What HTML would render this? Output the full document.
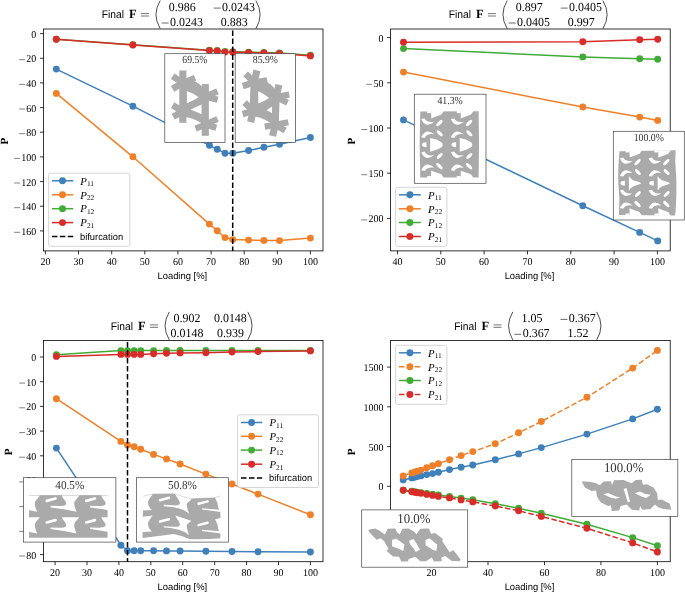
<!DOCTYPE html>
<html><head><meta charset="utf-8"><title>Figure</title>
<style>html,body{margin:0;padding:0;background:#fff;}svg{display:block;will-change:transform;}text{text-rendering:geometricPrecision;}</style>
</head><body>
<svg width="685" height="593" viewBox="0 0 685 593">
<rect x="0" y="0" width="685" height="593" fill="#fff"/>
<polyline points="56.3,69.1 132.9,106.2 209.4,145.3 217.2,149.3 225.0,153.2 232.8,153.2 248.6,150.5 263.9,147.3 279.5,144.3 310.4,137.5" fill="none" stroke="#3f80bb" stroke-width="1.5" stroke-linejoin="round"/>
<circle cx="56.3" cy="69.1" r="3.45" fill="#3f80bb"/>
<circle cx="132.9" cy="106.2" r="3.45" fill="#3f80bb"/>
<circle cx="209.4" cy="145.3" r="3.45" fill="#3f80bb"/>
<circle cx="217.2" cy="149.3" r="3.45" fill="#3f80bb"/>
<circle cx="225.0" cy="153.2" r="3.45" fill="#3f80bb"/>
<circle cx="232.8" cy="153.2" r="3.45" fill="#3f80bb"/>
<circle cx="248.6" cy="150.5" r="3.45" fill="#3f80bb"/>
<circle cx="263.9" cy="147.3" r="3.45" fill="#3f80bb"/>
<circle cx="279.5" cy="144.3" r="3.45" fill="#3f80bb"/>
<circle cx="310.4" cy="137.5" r="3.45" fill="#3f80bb"/>
<polyline points="56.3,93.4 132.9,156.8 209.4,224.1 217.2,230.8 225.0,237.6 232.8,239.6 248.6,240.1 263.9,240.4 279.5,240.6 310.4,238.1" fill="none" stroke="#f08028" stroke-width="1.5" stroke-linejoin="round"/>
<circle cx="56.3" cy="93.4" r="3.45" fill="#f08028"/>
<circle cx="132.9" cy="156.8" r="3.45" fill="#f08028"/>
<circle cx="209.4" cy="224.1" r="3.45" fill="#f08028"/>
<circle cx="217.2" cy="230.8" r="3.45" fill="#f08028"/>
<circle cx="225.0" cy="237.6" r="3.45" fill="#f08028"/>
<circle cx="232.8" cy="239.6" r="3.45" fill="#f08028"/>
<circle cx="248.6" cy="240.1" r="3.45" fill="#f08028"/>
<circle cx="263.9" cy="240.4" r="3.45" fill="#f08028"/>
<circle cx="279.5" cy="240.6" r="3.45" fill="#f08028"/>
<circle cx="310.4" cy="238.1" r="3.45" fill="#f08028"/>
<polyline points="56.3,39.2 132.9,44.7 209.4,50.2 217.2,50.5 225.0,51.5 232.8,51.8 248.6,52.1 263.9,52.5 279.5,53.0 310.4,55.3" fill="none" stroke="#40ab35" stroke-width="1.5" stroke-linejoin="round"/>
<circle cx="56.3" cy="39.2" r="3.45" fill="#40ab35"/>
<circle cx="132.9" cy="44.7" r="3.45" fill="#40ab35"/>
<circle cx="209.4" cy="50.2" r="3.45" fill="#40ab35"/>
<circle cx="217.2" cy="50.5" r="3.45" fill="#40ab35"/>
<circle cx="225.0" cy="51.5" r="3.45" fill="#40ab35"/>
<circle cx="232.8" cy="51.8" r="3.45" fill="#40ab35"/>
<circle cx="248.6" cy="52.1" r="3.45" fill="#40ab35"/>
<circle cx="263.9" cy="52.5" r="3.45" fill="#40ab35"/>
<circle cx="279.5" cy="53.0" r="3.45" fill="#40ab35"/>
<circle cx="310.4" cy="55.3" r="3.45" fill="#40ab35"/>
<polyline points="56.3,39.2 132.9,45.0 209.4,50.6 217.2,50.9 225.0,52.1 232.8,52.3 248.6,52.6 263.9,53.0 279.5,53.5 310.4,55.9" fill="none" stroke="#d92c29" stroke-width="1.5" stroke-linejoin="round"/>
<circle cx="56.3" cy="39.2" r="3.45" fill="#d92c29"/>
<circle cx="132.9" cy="45.0" r="3.45" fill="#d92c29"/>
<circle cx="209.4" cy="50.6" r="3.45" fill="#d92c29"/>
<circle cx="217.2" cy="50.9" r="3.45" fill="#d92c29"/>
<circle cx="225.0" cy="52.1" r="3.45" fill="#d92c29"/>
<circle cx="232.8" cy="52.3" r="3.45" fill="#d92c29"/>
<circle cx="248.6" cy="52.6" r="3.45" fill="#d92c29"/>
<circle cx="263.9" cy="53.0" r="3.45" fill="#d92c29"/>
<circle cx="279.5" cy="53.5" r="3.45" fill="#d92c29"/>
<circle cx="310.4" cy="55.9" r="3.45" fill="#d92c29"/>
<line x1="232.7" y1="29.0" x2="232.7" y2="250.9" stroke="#000" stroke-width="1.5" stroke-dasharray="5.5 2.5" stroke-dashoffset="6.4"/>
<rect x="43.5" y="29.0" width="279.5" height="221.9" fill="none" stroke="#000" stroke-width="0.8"/>
<line x1="40.0" y1="33.6" x2="43.5" y2="33.6" stroke="#000" stroke-width="0.8"/>
<text x="36.3" y="37.5" font-family='"Liberation Serif", serif' font-size="10.40" text-anchor="end" fill="#000" textLength="5.0" lengthAdjust="spacingAndGlyphs">0</text>
<line x1="40.0" y1="58.3" x2="43.5" y2="58.3" stroke="#000" stroke-width="0.8"/>
<text x="36.3" y="62.2" font-family='"Liberation Serif", serif' font-size="10.40" text-anchor="end" fill="#000" textLength="10.0" lengthAdjust="spacingAndGlyphs">20</text>
<line x1="19.2" y1="59.7" x2="25.1" y2="59.7" stroke="#000" stroke-width="0.50"/>
<line x1="40.0" y1="82.9" x2="43.5" y2="82.9" stroke="#000" stroke-width="0.8"/>
<text x="36.3" y="86.8" font-family='"Liberation Serif", serif' font-size="10.40" text-anchor="end" fill="#000" textLength="10.0" lengthAdjust="spacingAndGlyphs">40</text>
<line x1="19.2" y1="84.4" x2="25.1" y2="84.4" stroke="#000" stroke-width="0.50"/>
<line x1="40.0" y1="107.6" x2="43.5" y2="107.6" stroke="#000" stroke-width="0.8"/>
<text x="36.3" y="111.5" font-family='"Liberation Serif", serif' font-size="10.40" text-anchor="end" fill="#000" textLength="10.0" lengthAdjust="spacingAndGlyphs">60</text>
<line x1="19.2" y1="109.0" x2="25.1" y2="109.0" stroke="#000" stroke-width="0.50"/>
<line x1="40.0" y1="132.2" x2="43.5" y2="132.2" stroke="#000" stroke-width="0.8"/>
<text x="36.3" y="136.1" font-family='"Liberation Serif", serif' font-size="10.40" text-anchor="end" fill="#000" textLength="10.0" lengthAdjust="spacingAndGlyphs">80</text>
<line x1="19.2" y1="133.7" x2="25.1" y2="133.7" stroke="#000" stroke-width="0.50"/>
<line x1="40.0" y1="156.9" x2="43.5" y2="156.9" stroke="#000" stroke-width="0.8"/>
<text x="36.3" y="160.8" font-family='"Liberation Serif", serif' font-size="10.40" text-anchor="end" fill="#000" textLength="15.0" lengthAdjust="spacingAndGlyphs">100</text>
<line x1="14.2" y1="158.4" x2="20.1" y2="158.4" stroke="#000" stroke-width="0.50"/>
<line x1="40.0" y1="181.6" x2="43.5" y2="181.6" stroke="#000" stroke-width="0.8"/>
<text x="36.3" y="185.5" font-family='"Liberation Serif", serif' font-size="10.40" text-anchor="end" fill="#000" textLength="15.0" lengthAdjust="spacingAndGlyphs">120</text>
<line x1="14.2" y1="183.0" x2="20.1" y2="183.0" stroke="#000" stroke-width="0.50"/>
<line x1="40.0" y1="206.2" x2="43.5" y2="206.2" stroke="#000" stroke-width="0.8"/>
<text x="36.3" y="210.1" font-family='"Liberation Serif", serif' font-size="10.40" text-anchor="end" fill="#000" textLength="15.0" lengthAdjust="spacingAndGlyphs">140</text>
<line x1="14.2" y1="207.7" x2="20.1" y2="207.7" stroke="#000" stroke-width="0.50"/>
<line x1="40.0" y1="230.9" x2="43.5" y2="230.9" stroke="#000" stroke-width="0.8"/>
<text x="36.3" y="234.8" font-family='"Liberation Serif", serif' font-size="10.40" text-anchor="end" fill="#000" textLength="15.0" lengthAdjust="spacingAndGlyphs">160</text>
<line x1="14.2" y1="232.3" x2="20.1" y2="232.3" stroke="#000" stroke-width="0.50"/>
<line x1="45.4" y1="250.9" x2="45.4" y2="254.4" stroke="#000" stroke-width="0.8"/>
<text x="50.4" y="265.0" font-family='"Liberation Serif", serif' font-size="10.40" text-anchor="end" fill="#000" textLength="10.0" lengthAdjust="spacingAndGlyphs">20</text>
<line x1="78.5" y1="250.9" x2="78.5" y2="254.4" stroke="#000" stroke-width="0.8"/>
<text x="83.5" y="265.0" font-family='"Liberation Serif", serif' font-size="10.40" text-anchor="end" fill="#000" textLength="10.0" lengthAdjust="spacingAndGlyphs">30</text>
<line x1="111.7" y1="250.9" x2="111.7" y2="254.4" stroke="#000" stroke-width="0.8"/>
<text x="116.7" y="265.0" font-family='"Liberation Serif", serif' font-size="10.40" text-anchor="end" fill="#000" textLength="10.0" lengthAdjust="spacingAndGlyphs">40</text>
<line x1="144.8" y1="250.9" x2="144.8" y2="254.4" stroke="#000" stroke-width="0.8"/>
<text x="149.8" y="265.0" font-family='"Liberation Serif", serif' font-size="10.40" text-anchor="end" fill="#000" textLength="10.0" lengthAdjust="spacingAndGlyphs">50</text>
<line x1="177.9" y1="250.9" x2="177.9" y2="254.4" stroke="#000" stroke-width="0.8"/>
<text x="182.9" y="265.0" font-family='"Liberation Serif", serif' font-size="10.40" text-anchor="end" fill="#000" textLength="10.0" lengthAdjust="spacingAndGlyphs">60</text>
<line x1="211.1" y1="250.9" x2="211.1" y2="254.4" stroke="#000" stroke-width="0.8"/>
<text x="216.1" y="265.0" font-family='"Liberation Serif", serif' font-size="10.40" text-anchor="end" fill="#000" textLength="10.0" lengthAdjust="spacingAndGlyphs">70</text>
<line x1="244.2" y1="250.9" x2="244.2" y2="254.4" stroke="#000" stroke-width="0.8"/>
<text x="249.2" y="265.0" font-family='"Liberation Serif", serif' font-size="10.40" text-anchor="end" fill="#000" textLength="10.0" lengthAdjust="spacingAndGlyphs">80</text>
<line x1="277.3" y1="250.9" x2="277.3" y2="254.4" stroke="#000" stroke-width="0.8"/>
<text x="282.3" y="265.0" font-family='"Liberation Serif", serif' font-size="10.40" text-anchor="end" fill="#000" textLength="10.0" lengthAdjust="spacingAndGlyphs">90</text>
<line x1="310.4" y1="250.9" x2="310.4" y2="254.4" stroke="#000" stroke-width="0.8"/>
<text x="317.9" y="265.0" font-family='"Liberation Serif", serif' font-size="10.40" text-anchor="end" fill="#000" textLength="15.0" lengthAdjust="spacingAndGlyphs">100</text>
<text x="182.3" y="279.0" font-family='"Liberation Sans", sans-serif' font-size="9.6" text-anchor="middle" textLength="49.7" lengthAdjust="spacingAndGlyphs">Loading [%]</text>
<text transform="translate(8.0,141.2) rotate(-90)" font-family='"Liberation Serif", serif' font-weight="bold" font-size="11" text-anchor="middle">P</text>
<rect x="48.6" y="173.3" width="81.2" height="73.0" rx="2" ry="2" fill="#fff" fill-opacity="0.8" stroke="#ccc" stroke-width="0.8"/>
<line x1="51.9" y1="180.8" x2="73.2" y2="180.8" stroke="#3f80bb" stroke-width="1.5"/>
<circle cx="62.5" cy="180.8" r="3.45" fill="#3f80bb"/>
<text x="80.3" y="184.5" font-family='"Liberation Serif", serif' font-style="italic" font-size="10.8">P</text>
<text x="86.9" y="186.1" font-family='"Liberation Serif", serif' font-size="7.4">11</text>
<line x1="51.9" y1="194.8" x2="73.2" y2="194.8" stroke="#f08028" stroke-width="1.5"/>
<circle cx="62.5" cy="194.8" r="3.45" fill="#f08028"/>
<text x="80.3" y="198.5" font-family='"Liberation Serif", serif' font-style="italic" font-size="10.8">P</text>
<text x="86.9" y="200.1" font-family='"Liberation Serif", serif' font-size="7.4">22</text>
<line x1="51.9" y1="208.7" x2="73.2" y2="208.7" stroke="#40ab35" stroke-width="1.5"/>
<circle cx="62.5" cy="208.7" r="3.45" fill="#40ab35"/>
<text x="80.3" y="212.4" font-family='"Liberation Serif", serif' font-style="italic" font-size="10.8">P</text>
<text x="86.9" y="214.0" font-family='"Liberation Serif", serif' font-size="7.4">12</text>
<line x1="51.9" y1="222.6" x2="73.2" y2="222.6" stroke="#d92c29" stroke-width="1.5"/>
<circle cx="62.5" cy="222.6" r="3.45" fill="#d92c29"/>
<text x="80.3" y="226.3" font-family='"Liberation Serif", serif' font-style="italic" font-size="10.8">P</text>
<text x="86.9" y="227.9" font-family='"Liberation Serif", serif' font-size="7.4">21</text>
<line x1="51.9" y1="236.5" x2="73.2" y2="236.5" stroke="#000" stroke-width="1.5" stroke-dasharray="5.55 2.4"/>
<text x="80.0" y="239.7" font-family='"Liberation Sans", sans-serif' font-size="9.6" textLength="43.1" lengthAdjust="spacingAndGlyphs">bifurcation</text>
<rect x="164.8" y="53.7" width="60.2" height="88.7" fill="#fff" stroke="#444" stroke-width="0.7"/>
<text x="194.9" y="63.4" font-family='"Liberation Serif", serif' font-size="10.8" text-anchor="middle" fill="#333" textLength="25.2" lengthAdjust="spacingAndGlyphs">69.5%</text>
<g transform="translate(163,52) scale(0.15497)" stroke="#aaaaaa" fill="#aaaaaa" stroke-linecap="butt" stroke-linejoin="round">
<path d="M128,170 Q228,176 282,262 L282,482 Q215,428 128,416Z" stroke="none"/>
<path d="M154,252 Q200,268 230,292 Q200,312 154,331Z" fill="#fff" stroke="none"/>
<path d="M250,338 Q215,352 178,372 Q215,384 250,402Z" fill="#fff" stroke="none"/>
<line x1="128" y1="198" x2="128" y2="383" stroke-width="46"/>
<line x1="273" y1="288" x2="273" y2="468" stroke-width="46"/>
<line x1="128" y1="198" x2="62.0" y2="157.0" stroke-width="42"/>
<line x1="128" y1="198" x2="62.0" y2="238.0" stroke-width="42"/>
<line x1="128" y1="198" x2="207.0" y2="167.0" stroke-width="40"/>
<line x1="128" y1="198" x2="128.0" y2="119.0" stroke-width="46"/>
<circle cx="128" cy="198" r="22" stroke="none"/>
<line x1="128" y1="383" x2="62.0" y2="343.0" stroke-width="42"/>
<line x1="128" y1="383" x2="66.0" y2="418.0" stroke-width="42"/>
<line x1="128" y1="383" x2="128.0" y2="457.0" stroke-width="46"/>
<circle cx="128" cy="383" r="22" stroke="none"/>
<line x1="273" y1="288" x2="352.0" y2="254.0" stroke-width="40"/>
<line x1="273" y1="288" x2="353.0" y2="308.0" stroke-width="40"/>
<line x1="273" y1="288" x2="273.0" y2="207.0" stroke-width="46"/>
<circle cx="273" cy="288" r="22" stroke="none"/>
<line x1="273" y1="468" x2="352.0" y2="432.0" stroke-width="40"/>
<line x1="273" y1="468" x2="344.0" y2="489.0" stroke-width="40"/>
<line x1="273" y1="468" x2="210.0" y2="494.0" stroke-width="40"/>
<line x1="273" y1="468" x2="273.0" y2="541.0" stroke-width="46"/>
<circle cx="273" cy="468" r="22" stroke="none"/>
</g>
<rect x="235.2" y="53.7" width="60.3" height="88.7" fill="#fff" stroke="#444" stroke-width="0.7"/>
<text x="265.4" y="63.4" font-family='"Liberation Serif", serif' font-size="10.8" text-anchor="middle" fill="#333" textLength="25.2" lengthAdjust="spacingAndGlyphs">85.9%</text>
<g transform="translate(233.6,52) scale(0.15497) rotate(2 200 330)" stroke="#aaaaaa" fill="#aaaaaa" stroke-linecap="butt" stroke-linejoin="round">
<path d="M128,170 Q228,176 282,262 L282,482 Q215,428 128,416Z" stroke="none"/>
<path d="M156,254 Q200,270 228,296 Q198,318 160,334Z" fill="#fff" stroke="none"/>
<path d="M250,350 Q232,362 214,376 Q234,382 250,394Z" fill="#fff" stroke="none"/>
<line x1="128" y1="198" x2="128" y2="383" stroke-width="46"/>
<line x1="273" y1="288" x2="273" y2="468" stroke-width="46"/>
<line x1="128" y1="198" x2="71.0" y2="145.2" stroke-width="42"/>
<line x1="128" y1="198" x2="55.6" y2="224.7" stroke-width="42"/>
<line x1="128" y1="198" x2="211.5" y2="182.6" stroke-width="40"/>
<line x1="128" y1="198" x2="143.1" y2="120.5" stroke-width="46"/>
<circle cx="128" cy="198" r="22" stroke="none"/>
<line x1="128" y1="383" x2="70.8" y2="331.1" stroke-width="42"/>
<line x1="128" y1="383" x2="60.5" y2="405.5" stroke-width="42"/>
<line x1="128" y1="383" x2="113.9" y2="455.6" stroke-width="46"/>
<circle cx="128" cy="383" r="22" stroke="none"/>
<line x1="273" y1="288" x2="357.0" y2="269.7" stroke-width="40"/>
<line x1="273" y1="288" x2="347.7" y2="322.9" stroke-width="40"/>
<line x1="273" y1="288" x2="288.5" y2="208.5" stroke-width="46"/>
<circle cx="273" cy="288" r="22" stroke="none"/>
<line x1="273" y1="468" x2="357.4" y2="447.7" stroke-width="40"/>
<line x1="273" y1="468" x2="338.7" y2="502.2" stroke-width="40"/>
<line x1="273" y1="468" x2="206.2" y2="481.5" stroke-width="40"/>
<line x1="273" y1="468" x2="259.1" y2="539.7" stroke-width="46"/>
<circle cx="273" cy="468" r="22" stroke="none"/>
</g>
<text x="101.7" y="18.2" font-family='"Liberation Sans", sans-serif' font-size="11" textLength="22.3" lengthAdjust="spacingAndGlyphs">Final</text>
<text x="129.0" y="18.2" font-family='"Liberation Serif", serif' font-weight="bold" font-size="12.5">F</text>
<line x1="140.9" y1="13.6" x2="148.9" y2="13.6" stroke="#000" stroke-width="0.55"/>
<line x1="140.9" y1="16.0" x2="148.9" y2="16.0" stroke="#000" stroke-width="0.55"/>
<text x="195.7" y="11.0" font-family='"Liberation Serif", serif' font-size="12.27" text-anchor="end" fill="#000" textLength="26.9" lengthAdjust="spacingAndGlyphs">0.986</text>
<text x="254.9" y="11.0" font-family='"Liberation Serif", serif' font-size="12.27" text-anchor="end" fill="#000" textLength="32.8" lengthAdjust="spacingAndGlyphs">0.0243</text>
<line x1="213.8" y1="8.1" x2="220.7" y2="8.1" stroke="#000" stroke-width="0.59"/>
<text x="202.9" y="25.9" font-family='"Liberation Serif", serif' font-size="12.27" text-anchor="end" fill="#000" textLength="32.8" lengthAdjust="spacingAndGlyphs">0.0243</text>
<line x1="161.7" y1="23.0" x2="168.7" y2="23.0" stroke="#000" stroke-width="0.59"/>
<text x="247.7" y="25.9" font-family='"Liberation Serif", serif' font-size="12.27" text-anchor="end" fill="#000" textLength="26.9" lengthAdjust="spacingAndGlyphs">0.883</text>
<path d="M160.2,0.6 Q151.7,14.6 160.2,28.6" fill="none" stroke="#000" stroke-width="0.7"/>
<path d="M255.9,0.6 Q264.4,14.6 255.9,28.6" fill="none" stroke="#000" stroke-width="0.7"/>
<polyline points="403.5,119.9 582.8,205.7 639.7,232.4 657.7,240.9" fill="none" stroke="#3f80bb" stroke-width="1.5" stroke-linejoin="round"/>
<circle cx="403.5" cy="119.9" r="3.45" fill="#3f80bb"/>
<circle cx="582.8" cy="205.7" r="3.45" fill="#3f80bb"/>
<circle cx="639.7" cy="232.4" r="3.45" fill="#3f80bb"/>
<circle cx="657.7" cy="240.9" r="3.45" fill="#3f80bb"/>
<polyline points="403.5,72.1 582.8,107.0 639.7,117.1 657.7,120.4" fill="none" stroke="#f08028" stroke-width="1.5" stroke-linejoin="round"/>
<circle cx="403.5" cy="72.1" r="3.45" fill="#f08028"/>
<circle cx="582.8" cy="107.0" r="3.45" fill="#f08028"/>
<circle cx="639.7" cy="117.1" r="3.45" fill="#f08028"/>
<circle cx="657.7" cy="120.4" r="3.45" fill="#f08028"/>
<polyline points="403.5,48.6 582.8,56.9 639.7,58.7 657.7,59.2" fill="none" stroke="#40ab35" stroke-width="1.5" stroke-linejoin="round"/>
<circle cx="403.5" cy="48.6" r="3.45" fill="#40ab35"/>
<circle cx="582.8" cy="56.9" r="3.45" fill="#40ab35"/>
<circle cx="639.7" cy="58.7" r="3.45" fill="#40ab35"/>
<circle cx="657.7" cy="59.2" r="3.45" fill="#40ab35"/>
<polyline points="403.5,42.2 582.8,41.7 639.7,39.7 657.7,39.2" fill="none" stroke="#d92c29" stroke-width="1.5" stroke-linejoin="round"/>
<circle cx="403.5" cy="42.2" r="3.45" fill="#d92c29"/>
<circle cx="582.8" cy="41.7" r="3.45" fill="#d92c29"/>
<circle cx="639.7" cy="39.7" r="3.45" fill="#d92c29"/>
<circle cx="657.7" cy="39.2" r="3.45" fill="#d92c29"/>
<rect x="390.6" y="29.0" width="279.6" height="221.9" fill="none" stroke="#000" stroke-width="0.8"/>
<line x1="387.1" y1="37.6" x2="390.6" y2="37.6" stroke="#000" stroke-width="0.8"/>
<text x="383.4" y="41.5" font-family='"Liberation Serif", serif' font-size="10.40" text-anchor="end" fill="#000" textLength="5.0" lengthAdjust="spacingAndGlyphs">0</text>
<line x1="387.1" y1="82.8" x2="390.6" y2="82.8" stroke="#000" stroke-width="0.8"/>
<text x="383.4" y="86.7" font-family='"Liberation Serif", serif' font-size="10.40" text-anchor="end" fill="#000" textLength="10.0" lengthAdjust="spacingAndGlyphs">50</text>
<line x1="366.3" y1="84.3" x2="372.2" y2="84.3" stroke="#000" stroke-width="0.50"/>
<line x1="387.1" y1="128.0" x2="390.6" y2="128.0" stroke="#000" stroke-width="0.8"/>
<text x="383.4" y="131.9" font-family='"Liberation Serif", serif' font-size="10.40" text-anchor="end" fill="#000" textLength="15.0" lengthAdjust="spacingAndGlyphs">100</text>
<line x1="361.3" y1="129.5" x2="367.2" y2="129.5" stroke="#000" stroke-width="0.50"/>
<line x1="387.1" y1="173.2" x2="390.6" y2="173.2" stroke="#000" stroke-width="0.8"/>
<text x="383.4" y="177.1" font-family='"Liberation Serif", serif' font-size="10.40" text-anchor="end" fill="#000" textLength="15.0" lengthAdjust="spacingAndGlyphs">150</text>
<line x1="361.3" y1="174.7" x2="367.2" y2="174.7" stroke="#000" stroke-width="0.50"/>
<line x1="387.1" y1="218.4" x2="390.6" y2="218.4" stroke="#000" stroke-width="0.8"/>
<text x="383.4" y="222.3" font-family='"Liberation Serif", serif' font-size="10.40" text-anchor="end" fill="#000" textLength="15.0" lengthAdjust="spacingAndGlyphs">200</text>
<line x1="361.3" y1="219.9" x2="367.2" y2="219.9" stroke="#000" stroke-width="0.50"/>
<line x1="397.5" y1="250.9" x2="397.5" y2="254.4" stroke="#000" stroke-width="0.8"/>
<text x="402.5" y="265.0" font-family='"Liberation Serif", serif' font-size="10.40" text-anchor="end" fill="#000" textLength="10.0" lengthAdjust="spacingAndGlyphs">40</text>
<line x1="440.8" y1="250.9" x2="440.8" y2="254.4" stroke="#000" stroke-width="0.8"/>
<text x="445.8" y="265.0" font-family='"Liberation Serif", serif' font-size="10.40" text-anchor="end" fill="#000" textLength="10.0" lengthAdjust="spacingAndGlyphs">50</text>
<line x1="484.1" y1="250.9" x2="484.1" y2="254.4" stroke="#000" stroke-width="0.8"/>
<text x="489.1" y="265.0" font-family='"Liberation Serif", serif' font-size="10.40" text-anchor="end" fill="#000" textLength="10.0" lengthAdjust="spacingAndGlyphs">60</text>
<line x1="527.5" y1="250.9" x2="527.5" y2="254.4" stroke="#000" stroke-width="0.8"/>
<text x="532.5" y="265.0" font-family='"Liberation Serif", serif' font-size="10.40" text-anchor="end" fill="#000" textLength="10.0" lengthAdjust="spacingAndGlyphs">70</text>
<line x1="570.8" y1="250.9" x2="570.8" y2="254.4" stroke="#000" stroke-width="0.8"/>
<text x="575.8" y="265.0" font-family='"Liberation Serif", serif' font-size="10.40" text-anchor="end" fill="#000" textLength="10.0" lengthAdjust="spacingAndGlyphs">80</text>
<line x1="614.1" y1="250.9" x2="614.1" y2="254.4" stroke="#000" stroke-width="0.8"/>
<text x="619.1" y="265.0" font-family='"Liberation Serif", serif' font-size="10.40" text-anchor="end" fill="#000" textLength="10.0" lengthAdjust="spacingAndGlyphs">90</text>
<line x1="657.4" y1="250.9" x2="657.4" y2="254.4" stroke="#000" stroke-width="0.8"/>
<text x="664.9" y="265.0" font-family='"Liberation Serif", serif' font-size="10.40" text-anchor="end" fill="#000" textLength="15.0" lengthAdjust="spacingAndGlyphs">100</text>
<text x="529.5" y="279.0" font-family='"Liberation Sans", sans-serif' font-size="9.6" text-anchor="middle" textLength="49.7" lengthAdjust="spacingAndGlyphs">Loading [%]</text>
<text transform="translate(354.8,141.2) rotate(-90)" font-family='"Liberation Serif", serif' font-weight="bold" font-size="11" text-anchor="middle">P</text>
<rect x="395.6" y="187.3" width="51.3" height="59.1" rx="2" ry="2" fill="#fff" fill-opacity="0.8" stroke="#ccc" stroke-width="0.8"/>
<line x1="398.9" y1="194.8" x2="420.8" y2="194.8" stroke="#3f80bb" stroke-width="1.5"/>
<circle cx="409.9" cy="194.8" r="3.45" fill="#3f80bb"/>
<text x="428.1" y="198.5" font-family='"Liberation Serif", serif' font-style="italic" font-size="10.8">P</text>
<text x="434.7" y="200.1" font-family='"Liberation Serif", serif' font-size="7.4">11</text>
<line x1="398.9" y1="208.8" x2="420.8" y2="208.8" stroke="#f08028" stroke-width="1.5"/>
<circle cx="409.9" cy="208.8" r="3.45" fill="#f08028"/>
<text x="428.1" y="212.5" font-family='"Liberation Serif", serif' font-style="italic" font-size="10.8">P</text>
<text x="434.7" y="214.1" font-family='"Liberation Serif", serif' font-size="7.4">22</text>
<line x1="398.9" y1="222.5" x2="420.8" y2="222.5" stroke="#40ab35" stroke-width="1.5"/>
<circle cx="409.9" cy="222.5" r="3.45" fill="#40ab35"/>
<text x="428.1" y="226.2" font-family='"Liberation Serif", serif' font-style="italic" font-size="10.8">P</text>
<text x="434.7" y="227.8" font-family='"Liberation Serif", serif' font-size="7.4">12</text>
<line x1="398.9" y1="236.5" x2="420.8" y2="236.5" stroke="#d92c29" stroke-width="1.5"/>
<circle cx="409.9" cy="236.5" r="3.45" fill="#d92c29"/>
<text x="428.1" y="240.2" font-family='"Liberation Serif", serif' font-style="italic" font-size="10.8">P</text>
<text x="434.7" y="241.8" font-family='"Liberation Serif", serif' font-size="7.4">21</text>
<rect x="414.3" y="94.2" width="71.7" height="89.1" fill="#fff" stroke="#444" stroke-width="0.7"/>
<text x="450.1" y="103.9" font-family='"Liberation Serif", serif' font-size="10.8" text-anchor="middle" fill="#333" textLength="25.4" lengthAdjust="spacingAndGlyphs">41.3%</text>
<g transform="translate(410,90) scale(0.16529)">
<path d="M62,130 L415,128 Q420,330 415,530 L62,530 Q55,330 62,130Z" fill="#aaaaaa"/>
<g transform="translate(0,0)">
<polygon points="128,126 206,126 190,148 150,164 128,172" fill="#fff"/>
<polygon points="128,534 206,534 190,510 150,496 128,488" fill="#fff"/>
<polygon points="104,126 128,126 128,140 104,140" fill="#fff"/>
<polygon points="104,534 128,534 128,520 104,520" fill="#fff"/>
<path d="M122,290 L160,300 Q200,318 198,332 Q200,345 160,362 L122,374Z" fill="#fff"/>
<path d="M100,316 L100,346 Q72,346 72,331 Q72,316 100,316Z" fill="#fff"/>
<path d="M68,176 Q94,236 147,192 Q104,200 88,172Z" fill="#fff"/>
<path d="M68,286 Q94,226 147,268 Q104,260 88,290Z" fill="#fff"/>
<path d="M68,376 Q94,436 147,394 Q104,402 88,372Z" fill="#fff"/>
<path d="M68,486 Q94,426 147,470 Q104,462 88,490Z" fill="#fff"/>
<ellipse cx="178" cy="200" rx="25" ry="10" transform="rotate(-45 178 200)" fill="#fff"/>
<ellipse cx="180" cy="262" rx="23" ry="10" transform="rotate(45 180 262)" fill="#fff"/>
<ellipse cx="180" cy="399" rx="23" ry="10" transform="rotate(-45 180 399)" fill="#fff"/>
<ellipse cx="178" cy="461" rx="25" ry="10" transform="rotate(45 178 461)" fill="#fff"/>
</g>
<g transform="translate(179,0)">
<polygon points="128,126 206,126 190,148 150,164 128,172" fill="#fff"/>
<polygon points="128,534 206,534 190,510 150,496 128,488" fill="#fff"/>
<polygon points="104,126 128,126 128,140 104,140" fill="#fff"/>
<polygon points="104,534 128,534 128,520 104,520" fill="#fff"/>
<path d="M122,290 L160,300 Q200,318 198,332 Q200,345 160,362 L122,374Z" fill="#fff"/>
<path d="M100,316 L100,346 Q72,346 72,331 Q72,316 100,316Z" fill="#fff"/>
<path d="M68,176 Q94,236 147,192 Q104,200 88,172Z" fill="#fff"/>
<path d="M68,286 Q94,226 147,268 Q104,260 88,290Z" fill="#fff"/>
<path d="M68,376 Q94,436 147,394 Q104,402 88,372Z" fill="#fff"/>
<path d="M68,486 Q94,426 147,470 Q104,462 88,490Z" fill="#fff"/>
<ellipse cx="178" cy="200" rx="25" ry="10" transform="rotate(-45 178 200)" fill="#fff"/>
<ellipse cx="180" cy="262" rx="23" ry="10" transform="rotate(45 180 262)" fill="#fff"/>
<ellipse cx="180" cy="399" rx="23" ry="10" transform="rotate(-45 180 399)" fill="#fff"/>
<ellipse cx="178" cy="461" rx="25" ry="10" transform="rotate(45 178 461)" fill="#fff"/>
</g>
</g>
<rect x="613.3" y="131.3" width="71.0" height="88.7" fill="#fff" stroke="#444" stroke-width="0.7"/>
<text x="648.8" y="140.9" font-family='"Liberation Serif", serif' font-size="10.8" text-anchor="middle" fill="#333" textLength="30.3" lengthAdjust="spacingAndGlyphs">100.0%</text>
<g transform="translate(605,125) scale(0.16529) translate(24,30) scale(0.972,0.972)">
<path d="M66,132 L415,126 Q408,200 418,280 Q424,400 412,532 L62,530 Q70,430 58,330 Q56,220 66,132Z" fill="#aaaaaa"/>
<g transform="translate(0,0)">
<polygon points="128,126 206,126 190,148 150,164 128,172" fill="#fff"/>
<polygon points="128,534 206,534 190,510 150,496 128,488" fill="#fff"/>
<polygon points="104,126 128,126 128,140 104,140" fill="#fff"/>
<polygon points="104,534 128,534 128,520 104,520" fill="#fff"/>
<path d="M124,286 Q140,312 166,318 Q190,322 202,332 Q190,342 166,346 Q140,352 124,378Z" fill="#fff"/>
<path d="M100,316 L100,346 Q72,346 72,331 Q72,316 100,316Z" fill="#fff"/>
<path d="M68,176 Q94,236 147,192 Q104,200 88,172Z" fill="#fff"/>
<path d="M68,286 Q94,226 147,268 Q104,260 88,290Z" fill="#fff"/>
<path d="M68,376 Q94,436 147,394 Q104,402 88,372Z" fill="#fff"/>
<path d="M68,486 Q94,426 147,470 Q104,462 88,490Z" fill="#fff"/>
<ellipse cx="178" cy="200" rx="25" ry="10" transform="rotate(-45 178 200)" fill="#fff"/>
<ellipse cx="180" cy="262" rx="23" ry="10" transform="rotate(45 180 262)" fill="#fff"/>
<ellipse cx="180" cy="399" rx="23" ry="10" transform="rotate(-45 180 399)" fill="#fff"/>
<ellipse cx="178" cy="461" rx="25" ry="10" transform="rotate(45 178 461)" fill="#fff"/>
</g>
<g transform="translate(179,0)">
<polygon points="128,126 206,126 190,148 150,164 128,172" fill="#fff"/>
<polygon points="128,534 206,534 190,510 150,496 128,488" fill="#fff"/>
<polygon points="104,126 128,126 128,140 104,140" fill="#fff"/>
<polygon points="104,534 128,534 128,520 104,520" fill="#fff"/>
<path d="M124,286 Q140,312 166,318 Q190,322 202,332 Q190,342 166,346 Q140,352 124,378Z" fill="#fff"/>
<path d="M100,316 L100,346 Q72,346 72,331 Q72,316 100,316Z" fill="#fff"/>
<path d="M68,176 Q94,236 147,192 Q104,200 88,172Z" fill="#fff"/>
<path d="M68,286 Q94,226 147,268 Q104,260 88,290Z" fill="#fff"/>
<path d="M68,376 Q94,436 147,394 Q104,402 88,372Z" fill="#fff"/>
<path d="M68,486 Q94,426 147,470 Q104,462 88,490Z" fill="#fff"/>
<ellipse cx="178" cy="200" rx="25" ry="10" transform="rotate(-45 178 200)" fill="#fff"/>
<ellipse cx="180" cy="262" rx="23" ry="10" transform="rotate(45 180 262)" fill="#fff"/>
<ellipse cx="180" cy="399" rx="23" ry="10" transform="rotate(-45 180 399)" fill="#fff"/>
<ellipse cx="178" cy="461" rx="25" ry="10" transform="rotate(45 178 461)" fill="#fff"/>
</g>
</g>
<text x="448.7" y="18.2" font-family='"Liberation Sans", sans-serif' font-size="11" textLength="22.3" lengthAdjust="spacingAndGlyphs">Final</text>
<text x="476.0" y="18.2" font-family='"Liberation Serif", serif' font-weight="bold" font-size="12.5">F</text>
<line x1="487.9" y1="13.6" x2="495.9" y2="13.6" stroke="#000" stroke-width="0.55"/>
<line x1="487.9" y1="16.0" x2="495.9" y2="16.0" stroke="#000" stroke-width="0.55"/>
<text x="542.7" y="11.0" font-family='"Liberation Serif", serif' font-size="12.27" text-anchor="end" fill="#000" textLength="26.9" lengthAdjust="spacingAndGlyphs">0.897</text>
<text x="601.9" y="11.0" font-family='"Liberation Serif", serif' font-size="12.27" text-anchor="end" fill="#000" textLength="32.8" lengthAdjust="spacingAndGlyphs">0.0405</text>
<line x1="560.8" y1="8.1" x2="567.7" y2="8.1" stroke="#000" stroke-width="0.59"/>
<text x="549.9" y="25.9" font-family='"Liberation Serif", serif' font-size="12.27" text-anchor="end" fill="#000" textLength="32.8" lengthAdjust="spacingAndGlyphs">0.0405</text>
<line x1="508.7" y1="23.0" x2="515.7" y2="23.0" stroke="#000" stroke-width="0.59"/>
<text x="594.7" y="25.9" font-family='"Liberation Serif", serif' font-size="12.27" text-anchor="end" fill="#000" textLength="26.9" lengthAdjust="spacingAndGlyphs">0.997</text>
<path d="M507.2,0.6 Q498.7,14.6 507.2,28.6" fill="none" stroke="#000" stroke-width="0.7"/>
<path d="M602.9,0.6 Q611.4,14.6 602.9,28.6" fill="none" stroke="#000" stroke-width="0.7"/>
<polyline points="56.4,448.1 120.9,545.2 127.5,550.8 134.1,550.8 140.7,550.8 153.6,550.8 166.5,550.9 180.1,551.0 205.9,551.2 232.0,551.5 258.0,551.7 310.4,552.0" fill="none" stroke="#3f80bb" stroke-width="1.5" stroke-linejoin="round"/>
<circle cx="56.4" cy="448.1" r="3.45" fill="#3f80bb"/>
<circle cx="120.9" cy="545.2" r="3.45" fill="#3f80bb"/>
<circle cx="127.5" cy="550.8" r="3.45" fill="#3f80bb"/>
<circle cx="134.1" cy="550.8" r="3.45" fill="#3f80bb"/>
<circle cx="140.7" cy="550.8" r="3.45" fill="#3f80bb"/>
<circle cx="153.6" cy="550.8" r="3.45" fill="#3f80bb"/>
<circle cx="166.5" cy="550.9" r="3.45" fill="#3f80bb"/>
<circle cx="180.1" cy="551.0" r="3.45" fill="#3f80bb"/>
<circle cx="205.9" cy="551.2" r="3.45" fill="#3f80bb"/>
<circle cx="232.0" cy="551.5" r="3.45" fill="#3f80bb"/>
<circle cx="258.0" cy="551.7" r="3.45" fill="#3f80bb"/>
<circle cx="310.4" cy="552.0" r="3.45" fill="#3f80bb"/>
<polyline points="56.4,398.7 120.9,441.4 127.5,445.0 134.1,446.8 140.7,449.3 153.6,454.4 166.5,458.9 180.1,464.0 205.9,474.1 232.0,484.0 258.0,494.1 310.4,514.8" fill="none" stroke="#f08028" stroke-width="1.5" stroke-linejoin="round"/>
<circle cx="56.4" cy="398.7" r="3.45" fill="#f08028"/>
<circle cx="120.9" cy="441.4" r="3.45" fill="#f08028"/>
<circle cx="127.5" cy="445.0" r="3.45" fill="#f08028"/>
<circle cx="134.1" cy="446.8" r="3.45" fill="#f08028"/>
<circle cx="140.7" cy="449.3" r="3.45" fill="#f08028"/>
<circle cx="153.6" cy="454.4" r="3.45" fill="#f08028"/>
<circle cx="166.5" cy="458.9" r="3.45" fill="#f08028"/>
<circle cx="180.1" cy="464.0" r="3.45" fill="#f08028"/>
<circle cx="205.9" cy="474.1" r="3.45" fill="#f08028"/>
<circle cx="232.0" cy="484.0" r="3.45" fill="#f08028"/>
<circle cx="258.0" cy="494.1" r="3.45" fill="#f08028"/>
<circle cx="310.4" cy="514.8" r="3.45" fill="#f08028"/>
<polyline points="56.4,354.7 120.9,350.6 127.5,350.6 134.1,350.6 140.7,350.6 153.6,350.6 166.5,350.5 180.1,350.5 205.9,350.5 232.0,350.4 258.0,350.4 310.4,350.4" fill="none" stroke="#40ab35" stroke-width="1.5" stroke-linejoin="round"/>
<circle cx="56.4" cy="354.7" r="3.45" fill="#40ab35"/>
<circle cx="120.9" cy="350.6" r="3.45" fill="#40ab35"/>
<circle cx="127.5" cy="350.6" r="3.45" fill="#40ab35"/>
<circle cx="134.1" cy="350.6" r="3.45" fill="#40ab35"/>
<circle cx="140.7" cy="350.6" r="3.45" fill="#40ab35"/>
<circle cx="153.6" cy="350.6" r="3.45" fill="#40ab35"/>
<circle cx="166.5" cy="350.5" r="3.45" fill="#40ab35"/>
<circle cx="180.1" cy="350.5" r="3.45" fill="#40ab35"/>
<circle cx="205.9" cy="350.5" r="3.45" fill="#40ab35"/>
<circle cx="232.0" cy="350.4" r="3.45" fill="#40ab35"/>
<circle cx="258.0" cy="350.4" r="3.45" fill="#40ab35"/>
<circle cx="310.4" cy="350.4" r="3.45" fill="#40ab35"/>
<polyline points="56.4,356.4 120.9,354.4 127.5,354.4 134.1,354.4 140.7,354.4 153.6,353.7 166.5,353.3 180.1,352.9 205.9,352.7 232.0,352.1 258.0,351.6 310.4,350.9" fill="none" stroke="#d92c29" stroke-width="1.5" stroke-linejoin="round"/>
<circle cx="56.4" cy="356.4" r="3.45" fill="#d92c29"/>
<circle cx="120.9" cy="354.4" r="3.45" fill="#d92c29"/>
<circle cx="127.5" cy="354.4" r="3.45" fill="#d92c29"/>
<circle cx="134.1" cy="354.4" r="3.45" fill="#d92c29"/>
<circle cx="140.7" cy="354.4" r="3.45" fill="#d92c29"/>
<circle cx="153.6" cy="353.7" r="3.45" fill="#d92c29"/>
<circle cx="166.5" cy="353.3" r="3.45" fill="#d92c29"/>
<circle cx="180.1" cy="352.9" r="3.45" fill="#d92c29"/>
<circle cx="205.9" cy="352.7" r="3.45" fill="#d92c29"/>
<circle cx="232.0" cy="352.1" r="3.45" fill="#d92c29"/>
<circle cx="258.0" cy="351.6" r="3.45" fill="#d92c29"/>
<circle cx="310.4" cy="350.9" r="3.45" fill="#d92c29"/>
<line x1="127.5" y1="340.5" x2="127.5" y2="561.7" stroke="#000" stroke-width="1.5" stroke-dasharray="5.5 2.5" stroke-dashoffset="6.4"/>
<rect x="43.5" y="340.5" width="279.5" height="221.2" fill="none" stroke="#000" stroke-width="0.8"/>
<line x1="40.0" y1="357.0" x2="43.5" y2="357.0" stroke="#000" stroke-width="0.8"/>
<text x="36.3" y="360.9" font-family='"Liberation Serif", serif' font-size="10.40" text-anchor="end" fill="#000" textLength="5.0" lengthAdjust="spacingAndGlyphs">0</text>
<line x1="40.0" y1="381.7" x2="43.5" y2="381.7" stroke="#000" stroke-width="0.8"/>
<text x="36.3" y="385.6" font-family='"Liberation Serif", serif' font-size="10.40" text-anchor="end" fill="#000" textLength="10.0" lengthAdjust="spacingAndGlyphs">10</text>
<line x1="19.2" y1="383.1" x2="25.1" y2="383.1" stroke="#000" stroke-width="0.50"/>
<line x1="40.0" y1="406.4" x2="43.5" y2="406.4" stroke="#000" stroke-width="0.8"/>
<text x="36.3" y="410.3" font-family='"Liberation Serif", serif' font-size="10.40" text-anchor="end" fill="#000" textLength="10.0" lengthAdjust="spacingAndGlyphs">20</text>
<line x1="19.2" y1="407.8" x2="25.1" y2="407.8" stroke="#000" stroke-width="0.50"/>
<line x1="40.0" y1="431.1" x2="43.5" y2="431.1" stroke="#000" stroke-width="0.8"/>
<text x="36.3" y="435.0" font-family='"Liberation Serif", serif' font-size="10.40" text-anchor="end" fill="#000" textLength="10.0" lengthAdjust="spacingAndGlyphs">30</text>
<line x1="19.2" y1="432.6" x2="25.1" y2="432.6" stroke="#000" stroke-width="0.50"/>
<line x1="40.0" y1="455.8" x2="43.5" y2="455.8" stroke="#000" stroke-width="0.8"/>
<text x="36.3" y="459.7" font-family='"Liberation Serif", serif' font-size="10.40" text-anchor="end" fill="#000" textLength="10.0" lengthAdjust="spacingAndGlyphs">40</text>
<line x1="19.2" y1="457.2" x2="25.1" y2="457.2" stroke="#000" stroke-width="0.50"/>
<line x1="40.0" y1="480.5" x2="43.5" y2="480.5" stroke="#000" stroke-width="0.8"/>
<text x="36.3" y="484.4" font-family='"Liberation Serif", serif' font-size="10.40" text-anchor="end" fill="#000" textLength="10.0" lengthAdjust="spacingAndGlyphs">50</text>
<line x1="19.2" y1="481.9" x2="25.1" y2="481.9" stroke="#000" stroke-width="0.50"/>
<line x1="40.0" y1="505.2" x2="43.5" y2="505.2" stroke="#000" stroke-width="0.8"/>
<text x="36.3" y="509.1" font-family='"Liberation Serif", serif' font-size="10.40" text-anchor="end" fill="#000" textLength="10.0" lengthAdjust="spacingAndGlyphs">60</text>
<line x1="19.2" y1="506.6" x2="25.1" y2="506.6" stroke="#000" stroke-width="0.50"/>
<line x1="40.0" y1="529.9" x2="43.5" y2="529.9" stroke="#000" stroke-width="0.8"/>
<text x="36.3" y="533.8" font-family='"Liberation Serif", serif' font-size="10.40" text-anchor="end" fill="#000" textLength="10.0" lengthAdjust="spacingAndGlyphs">70</text>
<line x1="19.2" y1="531.3" x2="25.1" y2="531.3" stroke="#000" stroke-width="0.50"/>
<line x1="40.0" y1="554.6" x2="43.5" y2="554.6" stroke="#000" stroke-width="0.8"/>
<text x="36.3" y="558.5" font-family='"Liberation Serif", serif' font-size="10.40" text-anchor="end" fill="#000" textLength="10.0" lengthAdjust="spacingAndGlyphs">80</text>
<line x1="19.2" y1="556.0" x2="25.1" y2="556.0" stroke="#000" stroke-width="0.50"/>
<line x1="55.1" y1="561.7" x2="55.1" y2="565.2" stroke="#000" stroke-width="0.8"/>
<text x="60.1" y="575.8" font-family='"Liberation Serif", serif' font-size="10.40" text-anchor="end" fill="#000" textLength="10.0" lengthAdjust="spacingAndGlyphs">20</text>
<line x1="87.0" y1="561.7" x2="87.0" y2="565.2" stroke="#000" stroke-width="0.8"/>
<text x="92.0" y="575.8" font-family='"Liberation Serif", serif' font-size="10.40" text-anchor="end" fill="#000" textLength="10.0" lengthAdjust="spacingAndGlyphs">30</text>
<line x1="118.9" y1="561.7" x2="118.9" y2="565.2" stroke="#000" stroke-width="0.8"/>
<text x="123.9" y="575.8" font-family='"Liberation Serif", serif' font-size="10.40" text-anchor="end" fill="#000" textLength="10.0" lengthAdjust="spacingAndGlyphs">40</text>
<line x1="150.8" y1="561.7" x2="150.8" y2="565.2" stroke="#000" stroke-width="0.8"/>
<text x="155.8" y="575.8" font-family='"Liberation Serif", serif' font-size="10.40" text-anchor="end" fill="#000" textLength="10.0" lengthAdjust="spacingAndGlyphs">50</text>
<line x1="182.7" y1="561.7" x2="182.7" y2="565.2" stroke="#000" stroke-width="0.8"/>
<text x="187.7" y="575.8" font-family='"Liberation Serif", serif' font-size="10.40" text-anchor="end" fill="#000" textLength="10.0" lengthAdjust="spacingAndGlyphs">60</text>
<line x1="214.7" y1="561.7" x2="214.7" y2="565.2" stroke="#000" stroke-width="0.8"/>
<text x="219.7" y="575.8" font-family='"Liberation Serif", serif' font-size="10.40" text-anchor="end" fill="#000" textLength="10.0" lengthAdjust="spacingAndGlyphs">70</text>
<line x1="246.6" y1="561.7" x2="246.6" y2="565.2" stroke="#000" stroke-width="0.8"/>
<text x="251.6" y="575.8" font-family='"Liberation Serif", serif' font-size="10.40" text-anchor="end" fill="#000" textLength="10.0" lengthAdjust="spacingAndGlyphs">80</text>
<line x1="278.5" y1="561.7" x2="278.5" y2="565.2" stroke="#000" stroke-width="0.8"/>
<text x="283.5" y="575.8" font-family='"Liberation Serif", serif' font-size="10.40" text-anchor="end" fill="#000" textLength="10.0" lengthAdjust="spacingAndGlyphs">90</text>
<line x1="310.4" y1="561.7" x2="310.4" y2="565.2" stroke="#000" stroke-width="0.8"/>
<text x="317.9" y="575.8" font-family='"Liberation Serif", serif' font-size="10.40" text-anchor="end" fill="#000" textLength="15.0" lengthAdjust="spacingAndGlyphs">100</text>
<text x="182.3" y="590.0" font-family='"Liberation Sans", sans-serif' font-size="9.6" text-anchor="middle" textLength="49.7" lengthAdjust="spacingAndGlyphs">Loading [%]</text>
<text transform="translate(11.9,452.0) rotate(-90)" font-family='"Liberation Serif", serif' font-weight="bold" font-size="11" text-anchor="middle">P</text>
<rect x="237.5" y="414.8" width="81.0" height="72.7" rx="2" ry="2" fill="#fff" fill-opacity="0.8" stroke="#ccc" stroke-width="0.8"/>
<line x1="241.0" y1="422.5" x2="262.2" y2="422.5" stroke="#3f80bb" stroke-width="1.5"/>
<circle cx="251.6" cy="422.5" r="3.45" fill="#3f80bb"/>
<text x="269.4" y="426.2" font-family='"Liberation Serif", serif' font-style="italic" font-size="10.8">P</text>
<text x="276.0" y="427.8" font-family='"Liberation Serif", serif' font-size="7.4">11</text>
<line x1="241.0" y1="436.3" x2="262.2" y2="436.3" stroke="#f08028" stroke-width="1.5"/>
<circle cx="251.6" cy="436.3" r="3.45" fill="#f08028"/>
<text x="269.4" y="440.0" font-family='"Liberation Serif", serif' font-style="italic" font-size="10.8">P</text>
<text x="276.0" y="441.6" font-family='"Liberation Serif", serif' font-size="7.4">22</text>
<line x1="241.0" y1="450.1" x2="262.2" y2="450.1" stroke="#40ab35" stroke-width="1.5"/>
<circle cx="251.6" cy="450.1" r="3.45" fill="#40ab35"/>
<text x="269.4" y="453.8" font-family='"Liberation Serif", serif' font-style="italic" font-size="10.8">P</text>
<text x="276.0" y="455.4" font-family='"Liberation Serif", serif' font-size="7.4">12</text>
<line x1="241.0" y1="464.2" x2="262.2" y2="464.2" stroke="#d92c29" stroke-width="1.5"/>
<circle cx="251.6" cy="464.2" r="3.45" fill="#d92c29"/>
<text x="269.4" y="467.9" font-family='"Liberation Serif", serif' font-style="italic" font-size="10.8">P</text>
<text x="276.0" y="469.5" font-family='"Liberation Serif", serif' font-size="7.4">21</text>
<line x1="241.0" y1="478.1" x2="262.2" y2="478.1" stroke="#000" stroke-width="1.5" stroke-dasharray="5.55 2.4"/>
<text x="269.1" y="481.3" font-family='"Liberation Sans", sans-serif' font-size="9.6" textLength="43.1" lengthAdjust="spacingAndGlyphs">bifurcation</text>
<rect x="23.6" y="477.7" width="92.3" height="64.4" fill="#fff" stroke="#444" stroke-width="0.7"/>
<text x="69.8" y="488.8" font-family='"Liberation Serif", serif' font-size="12.2" text-anchor="middle" fill="#333" textLength="28.9" lengthAdjust="spacingAndGlyphs">40.5%</text>
<g transform="translate(20,474) scale(0.14599)">
<clipPath id="wc1"><rect x="34" y="120" width="612" height="338"/></clipPath>
<path d="M62,146 L600,146 L600,437 L62,437Z" fill="#aaaaaa"/>
<g clip-path="url(#wc1)">
<g transform="translate(-270,0)">
<path d="M287,100 L405,100 L405,148.5 C396.6,165.3 371.4,182.1 371.4,200.6 C371.4,219.9 379.8,240.9 388.2,259.4 L300,242 L210,229 L210,218 L274.8,219.5 C300,219.1 318.4,214 316.8,200.6 C315.1,182.1 291.6,169.5 287.4,148.5Z" fill="#fff"/>
<rect x="173.5" y="167" width="80" height="18" rx="9" ry="9" transform="rotate(-15 213.5 176)" fill="#fff"/>
</g>
<g transform="translate(0,0)">
<path d="M287,100 L405,100 L405,148.5 C396.6,165.3 371.4,182.1 371.4,200.6 C371.4,219.9 379.8,240.9 388.2,259.4 L300,242 L210,229 L210,218 L274.8,219.5 C300,219.1 318.4,214 316.8,200.6 C315.1,182.1 291.6,169.5 287.4,148.5Z" fill="#fff"/>
<rect x="173.5" y="167" width="80" height="18" rx="9" ry="9" transform="rotate(-15 213.5 176)" fill="#fff"/>
</g>
<g transform="translate(270,0)">
<path d="M287,100 L405,100 L405,148.5 C396.6,165.3 371.4,182.1 371.4,200.6 C371.4,219.9 379.8,240.9 388.2,259.4 L300,242 L210,229 L210,218 L274.8,219.5 C300,219.1 318.4,214 316.8,200.6 C315.1,182.1 291.6,169.5 287.4,148.5Z" fill="#fff"/>
<rect x="173.5" y="167" width="80" height="18" rx="9" ry="9" transform="rotate(-15 213.5 176)" fill="#fff"/>
</g>
<g transform="translate(-270,148)">
<path d="M287,148 L405,148 L405,148.5 C396.6,165.3 371.4,182.1 371.4,200.6 C371.4,219.9 379.8,240.9 388.2,259.4 L300,242 L210,229 L210,218 L274.8,219.5 C300,219.1 318.4,214 316.8,200.6 C315.1,182.1 291.6,169.5 287.4,148.5Z" fill="#fff"/>
<rect x="173.5" y="167" width="80" height="18" rx="9" ry="9" transform="rotate(-15 213.5 176)" fill="#fff"/>
</g>
<g transform="translate(0,148)">
<path d="M287,148 L405,148 L405,148.5 C396.6,165.3 371.4,182.1 371.4,200.6 C371.4,219.9 379.8,240.9 388.2,259.4 L300,242 L210,229 L210,218 L274.8,219.5 C300,219.1 318.4,214 316.8,200.6 C315.1,182.1 291.6,169.5 287.4,148.5Z" fill="#fff"/>
<rect x="173.5" y="167" width="80" height="18" rx="9" ry="9" transform="rotate(-15 213.5 176)" fill="#fff"/>
</g>
<g transform="translate(270,148)">
<path d="M287,148 L405,148 L405,148.5 C396.6,165.3 371.4,182.1 371.4,200.6 C371.4,219.9 379.8,240.9 388.2,259.4 L300,242 L210,229 L210,218 L274.8,219.5 C300,219.1 318.4,214 316.8,200.6 C315.1,182.1 291.6,169.5 287.4,148.5Z" fill="#fff"/>
<rect x="173.5" y="167" width="80" height="18" rx="9" ry="9" transform="rotate(-15 213.5 176)" fill="#fff"/>
</g>
</g>
<line x1="62" y1="147" x2="600" y2="147" stroke="#aaaaaa" stroke-width="3"/>
</g>
<rect x="136.5" y="477.7" width="92.0" height="64.4" fill="#fff" stroke="#444" stroke-width="0.7"/>
<text x="182.5" y="488.8" font-family='"Liberation Serif", serif' font-size="12.2" text-anchor="middle" fill="#333" textLength="28.9" lengthAdjust="spacingAndGlyphs">50.8%</text>
<g transform="translate(140,490) scale(0.12555)">
<clipPath id="wc2"><rect x="-20" y="10" width="700" height="400"/></clipPath>
<path d="M25,50 Q60,40 100,32 L270,30 Q340,50 400,70 L590,62 L640,48 L640,385 Q520,395 400,392 Q340,365 270,350 Q150,365 20,382Z" fill="#aaaaaa"/>
<g clip-path="url(#wc2)">
<g transform="translate(0,0)">
<path d="M-10,-40 L100,-40 L100,34 C85,60 62,80 64,104 C66,130 82,148 96,160 L-10,166Z" fill="#fff"/>
<path d="M282,-40 L408,-40 L408,75 C395,90 372,100 372,118 C375,150 385,170 392,190 C350,150 280,135 190,129 L188,118 L270,122 C300,125 322,118 318,100 C312,75 290,60 282,33Z" fill="#fff"/>
<path d="M598,-40 L660,-40 L660,172 L632,166 C628,150 620,138 620,120 C620,100 606,84 598,62Z" fill="#fff"/>
<path d="M494,146 L494,156 L660,178 L660,160Z" fill="#fff"/>
<rect x="148" y="62" width="94" height="20" rx="10" ry="10" transform="rotate(-15 195 72)" fill="#fff"/>
<rect x="455" y="90" width="94" height="20" rx="10" ry="10" transform="rotate(-15 502 100)" fill="#fff"/>
</g>
<g transform="translate(0,170)">
<path d="M-10,48 L100,34 L100,34 C85,60 62,80 64,104 C66,130 82,148 96,160 L-10,166Z" fill="#fff"/>
<path d="M282,33 L408,75 L408,75 C395,90 372,100 372,118 C375,150 385,170 392,190 C350,150 280,135 190,129 L188,118 L270,122 C300,125 322,118 318,100 C312,75 290,60 282,33Z" fill="#fff"/>
<path d="M598,62 L660,50 L660,172 L632,166 C628,150 620,138 620,120 C620,100 606,84 598,62Z" fill="#fff"/>
<path d="M494,146 L494,156 L660,178 L660,160Z" fill="#fff"/>
<rect x="148" y="62" width="94" height="20" rx="10" ry="10" transform="rotate(-15 195 72)" fill="#fff"/>
<rect x="455" y="90" width="94" height="20" rx="10" ry="10" transform="rotate(-15 502 100)" fill="#fff"/>
</g>
</g>
<path d="M25,50 Q60,40 100,32 L270,30 Q340,50 400,70 L590,62 L640,48" fill="none" stroke="#aaaaaa" stroke-width="3.5"/>
</g>
<text x="110.8" y="329.5" font-family='"Liberation Sans", sans-serif' font-size="11" textLength="22.3" lengthAdjust="spacingAndGlyphs">Final</text>
<text x="138.1" y="329.5" font-family='"Liberation Serif", serif' font-weight="bold" font-size="12.5">F</text>
<line x1="150.0" y1="324.9" x2="158.0" y2="324.9" stroke="#000" stroke-width="0.55"/>
<line x1="150.0" y1="327.3" x2="158.0" y2="327.3" stroke="#000" stroke-width="0.55"/>
<text x="200.5" y="322.3" font-family='"Liberation Serif", serif' font-size="12.27" text-anchor="end" fill="#000" textLength="26.9" lengthAdjust="spacingAndGlyphs">0.902</text>
<text x="246.8" y="322.3" font-family='"Liberation Serif", serif' font-size="12.27" text-anchor="end" fill="#000" textLength="32.8" lengthAdjust="spacingAndGlyphs">0.0148</text>
<text x="203.4" y="337.2" font-family='"Liberation Serif", serif' font-size="12.27" text-anchor="end" fill="#000" textLength="32.8" lengthAdjust="spacingAndGlyphs">0.0148</text>
<text x="243.9" y="337.2" font-family='"Liberation Serif", serif' font-size="12.27" text-anchor="end" fill="#000" textLength="26.9" lengthAdjust="spacingAndGlyphs">0.939</text>
<path d="M169.3,311.9 Q160.8,325.9 169.3,339.9" fill="none" stroke="#000" stroke-width="0.7"/>
<path d="M247.8,311.9 Q256.3,325.9 247.8,339.9" fill="none" stroke="#000" stroke-width="0.7"/>
<polyline points="403.2,479.9 411.8,477.9 414.6,477.2 417.1,476.6 420.9,475.9 426.7,474.6 432.6,473.6 438.4,472.3 449.5,469.6 461.1,467.3 472.8,465.0 495.3,459.7 518.6,453.9 541.3,447.6 586.9,434.1 632.7,418.9 657.4,409.3" fill="none" stroke="#3f80bb" stroke-width="1.5" stroke-linejoin="round"/>
<circle cx="403.2" cy="479.9" r="3.45" fill="#3f80bb"/>
<circle cx="411.8" cy="477.9" r="3.45" fill="#3f80bb"/>
<circle cx="414.6" cy="477.2" r="3.45" fill="#3f80bb"/>
<circle cx="417.1" cy="476.6" r="3.45" fill="#3f80bb"/>
<circle cx="420.9" cy="475.9" r="3.45" fill="#3f80bb"/>
<circle cx="426.7" cy="474.6" r="3.45" fill="#3f80bb"/>
<circle cx="432.6" cy="473.6" r="3.45" fill="#3f80bb"/>
<circle cx="438.4" cy="472.3" r="3.45" fill="#3f80bb"/>
<circle cx="449.5" cy="469.6" r="3.45" fill="#3f80bb"/>
<circle cx="461.1" cy="467.3" r="3.45" fill="#3f80bb"/>
<circle cx="472.8" cy="465.0" r="3.45" fill="#3f80bb"/>
<circle cx="495.3" cy="459.7" r="3.45" fill="#3f80bb"/>
<circle cx="518.6" cy="453.9" r="3.45" fill="#3f80bb"/>
<circle cx="541.3" cy="447.6" r="3.45" fill="#3f80bb"/>
<circle cx="586.9" cy="434.1" r="3.45" fill="#3f80bb"/>
<circle cx="632.7" cy="418.9" r="3.45" fill="#3f80bb"/>
<circle cx="657.4" cy="409.3" r="3.45" fill="#3f80bb"/>
<polyline points="403.2,475.9 411.8,472.9 414.6,472.1 417.1,471.3 420.9,470.1 426.7,467.8 432.6,465.8 438.4,463.7 449.5,459.7 461.1,455.6 472.8,451.6 495.3,443.8 518.6,432.8 541.3,421.5 586.9,397.2 632.7,368.1 657.4,350.4" fill="none" stroke="#f08028" stroke-width="1.5" stroke-linejoin="round" stroke-dasharray="5.55 2.4"/>
<circle cx="403.2" cy="475.9" r="3.45" fill="#f08028"/>
<circle cx="411.8" cy="472.9" r="3.45" fill="#f08028"/>
<circle cx="414.6" cy="472.1" r="3.45" fill="#f08028"/>
<circle cx="417.1" cy="471.3" r="3.45" fill="#f08028"/>
<circle cx="420.9" cy="470.1" r="3.45" fill="#f08028"/>
<circle cx="426.7" cy="467.8" r="3.45" fill="#f08028"/>
<circle cx="432.6" cy="465.8" r="3.45" fill="#f08028"/>
<circle cx="438.4" cy="463.7" r="3.45" fill="#f08028"/>
<circle cx="449.5" cy="459.7" r="3.45" fill="#f08028"/>
<circle cx="461.1" cy="455.6" r="3.45" fill="#f08028"/>
<circle cx="472.8" cy="451.6" r="3.45" fill="#f08028"/>
<circle cx="495.3" cy="443.8" r="3.45" fill="#f08028"/>
<circle cx="518.6" cy="432.8" r="3.45" fill="#f08028"/>
<circle cx="541.3" cy="421.5" r="3.45" fill="#f08028"/>
<circle cx="586.9" cy="397.2" r="3.45" fill="#f08028"/>
<circle cx="632.7" cy="368.1" r="3.45" fill="#f08028"/>
<circle cx="657.4" cy="350.4" r="3.45" fill="#f08028"/>
<polyline points="403.2,490.3 411.8,491.3 414.6,491.7 417.1,492.1 420.9,492.6 426.7,493.4 432.6,494.2 438.4,495.0 449.5,496.4 461.1,498.1 472.8,499.7 495.3,503.7 518.6,508.3 541.3,513.3 586.9,524.2 632.7,537.6 657.4,545.7" fill="none" stroke="#40ab35" stroke-width="1.5" stroke-linejoin="round"/>
<circle cx="403.2" cy="490.3" r="3.45" fill="#40ab35"/>
<circle cx="411.8" cy="491.3" r="3.45" fill="#40ab35"/>
<circle cx="414.6" cy="491.7" r="3.45" fill="#40ab35"/>
<circle cx="417.1" cy="492.1" r="3.45" fill="#40ab35"/>
<circle cx="420.9" cy="492.6" r="3.45" fill="#40ab35"/>
<circle cx="426.7" cy="493.4" r="3.45" fill="#40ab35"/>
<circle cx="432.6" cy="494.2" r="3.45" fill="#40ab35"/>
<circle cx="438.4" cy="495.0" r="3.45" fill="#40ab35"/>
<circle cx="449.5" cy="496.4" r="3.45" fill="#40ab35"/>
<circle cx="461.1" cy="498.1" r="3.45" fill="#40ab35"/>
<circle cx="472.8" cy="499.7" r="3.45" fill="#40ab35"/>
<circle cx="495.3" cy="503.7" r="3.45" fill="#40ab35"/>
<circle cx="518.6" cy="508.3" r="3.45" fill="#40ab35"/>
<circle cx="541.3" cy="513.3" r="3.45" fill="#40ab35"/>
<circle cx="586.9" cy="524.2" r="3.45" fill="#40ab35"/>
<circle cx="632.7" cy="537.6" r="3.45" fill="#40ab35"/>
<circle cx="657.4" cy="545.7" r="3.45" fill="#40ab35"/>
<polyline points="403.2,490.3 411.8,491.8 414.6,492.3 417.1,492.8 420.9,493.3 426.7,494.4 432.6,495.4 438.4,496.4 449.5,497.9 461.1,499.9 472.8,501.9 495.3,506.0 518.6,510.8 541.3,516.4 586.9,528.3 632.7,542.9 657.4,552.0" fill="none" stroke="#d92c29" stroke-width="1.5" stroke-linejoin="round" stroke-dasharray="5.55 2.4"/>
<circle cx="403.2" cy="490.3" r="3.45" fill="#d92c29"/>
<circle cx="411.8" cy="491.8" r="3.45" fill="#d92c29"/>
<circle cx="414.6" cy="492.3" r="3.45" fill="#d92c29"/>
<circle cx="417.1" cy="492.8" r="3.45" fill="#d92c29"/>
<circle cx="420.9" cy="493.3" r="3.45" fill="#d92c29"/>
<circle cx="426.7" cy="494.4" r="3.45" fill="#d92c29"/>
<circle cx="432.6" cy="495.4" r="3.45" fill="#d92c29"/>
<circle cx="438.4" cy="496.4" r="3.45" fill="#d92c29"/>
<circle cx="449.5" cy="497.9" r="3.45" fill="#d92c29"/>
<circle cx="461.1" cy="499.9" r="3.45" fill="#d92c29"/>
<circle cx="472.8" cy="501.9" r="3.45" fill="#d92c29"/>
<circle cx="495.3" cy="506.0" r="3.45" fill="#d92c29"/>
<circle cx="518.6" cy="510.8" r="3.45" fill="#d92c29"/>
<circle cx="541.3" cy="516.4" r="3.45" fill="#d92c29"/>
<circle cx="586.9" cy="528.3" r="3.45" fill="#d92c29"/>
<circle cx="632.7" cy="542.9" r="3.45" fill="#d92c29"/>
<circle cx="657.4" cy="552.0" r="3.45" fill="#d92c29"/>
<rect x="390.6" y="340.5" width="279.6" height="221.2" fill="none" stroke="#000" stroke-width="0.8"/>
<line x1="387.1" y1="486.3" x2="390.6" y2="486.3" stroke="#000" stroke-width="0.8"/>
<text x="383.4" y="490.2" font-family='"Liberation Serif", serif' font-size="10.40" text-anchor="end" fill="#000" textLength="5.0" lengthAdjust="spacingAndGlyphs">0</text>
<line x1="387.1" y1="446.6" x2="390.6" y2="446.6" stroke="#000" stroke-width="0.8"/>
<text x="383.4" y="450.5" font-family='"Liberation Serif", serif' font-size="10.40" text-anchor="end" fill="#000" textLength="15.0" lengthAdjust="spacingAndGlyphs">500</text>
<line x1="387.1" y1="406.8" x2="390.6" y2="406.8" stroke="#000" stroke-width="0.8"/>
<text x="383.4" y="410.7" font-family='"Liberation Serif", serif' font-size="10.40" text-anchor="end" fill="#000" textLength="20.0" lengthAdjust="spacingAndGlyphs">1000</text>
<line x1="387.1" y1="367.1" x2="390.6" y2="367.1" stroke="#000" stroke-width="0.8"/>
<text x="383.4" y="371.0" font-family='"Liberation Serif", serif' font-size="10.40" text-anchor="end" fill="#000" textLength="20.0" lengthAdjust="spacingAndGlyphs">1500</text>
<line x1="431.5" y1="561.7" x2="431.5" y2="565.2" stroke="#000" stroke-width="0.8"/>
<text x="436.5" y="575.8" font-family='"Liberation Serif", serif' font-size="10.40" text-anchor="end" fill="#000" textLength="10.0" lengthAdjust="spacingAndGlyphs">20</text>
<line x1="488.0" y1="561.7" x2="488.0" y2="565.2" stroke="#000" stroke-width="0.8"/>
<text x="493.0" y="575.8" font-family='"Liberation Serif", serif' font-size="10.40" text-anchor="end" fill="#000" textLength="10.0" lengthAdjust="spacingAndGlyphs">40</text>
<line x1="544.5" y1="561.7" x2="544.5" y2="565.2" stroke="#000" stroke-width="0.8"/>
<text x="549.5" y="575.8" font-family='"Liberation Serif", serif' font-size="10.40" text-anchor="end" fill="#000" textLength="10.0" lengthAdjust="spacingAndGlyphs">60</text>
<line x1="600.9" y1="561.7" x2="600.9" y2="565.2" stroke="#000" stroke-width="0.8"/>
<text x="605.9" y="575.8" font-family='"Liberation Serif", serif' font-size="10.40" text-anchor="end" fill="#000" textLength="10.0" lengthAdjust="spacingAndGlyphs">80</text>
<line x1="657.4" y1="561.7" x2="657.4" y2="565.2" stroke="#000" stroke-width="0.8"/>
<text x="664.9" y="575.8" font-family='"Liberation Serif", serif' font-size="10.40" text-anchor="end" fill="#000" textLength="15.0" lengthAdjust="spacingAndGlyphs">100</text>
<text x="529.5" y="590.0" font-family='"Liberation Sans", sans-serif' font-size="9.6" text-anchor="middle" textLength="49.7" lengthAdjust="spacingAndGlyphs">Loading [%]</text>
<text transform="translate(354.8,452.0) rotate(-90)" font-family='"Liberation Serif", serif' font-weight="bold" font-size="11" text-anchor="middle">P</text>
<rect x="395.6" y="345.3" width="51.3" height="59.1" rx="2" ry="2" fill="#fff" fill-opacity="0.8" stroke="#ccc" stroke-width="0.8"/>
<line x1="398.9" y1="352.8" x2="420.8" y2="352.8" stroke="#3f80bb" stroke-width="1.5"/>
<circle cx="409.9" cy="352.8" r="3.45" fill="#3f80bb"/>
<text x="428.1" y="356.5" font-family='"Liberation Serif", serif' font-style="italic" font-size="10.8">P</text>
<text x="434.7" y="358.1" font-family='"Liberation Serif", serif' font-size="7.4">11</text>
<line x1="398.9" y1="366.8" x2="420.8" y2="366.8" stroke="#f08028" stroke-width="1.5" stroke-dasharray="5.55 2.4"/>
<circle cx="409.9" cy="366.8" r="3.45" fill="#f08028"/>
<text x="428.1" y="370.5" font-family='"Liberation Serif", serif' font-style="italic" font-size="10.8">P</text>
<text x="434.7" y="372.1" font-family='"Liberation Serif", serif' font-size="7.4">22</text>
<line x1="398.9" y1="380.5" x2="420.8" y2="380.5" stroke="#40ab35" stroke-width="1.5"/>
<circle cx="409.9" cy="380.5" r="3.45" fill="#40ab35"/>
<text x="428.1" y="384.2" font-family='"Liberation Serif", serif' font-style="italic" font-size="10.8">P</text>
<text x="434.7" y="385.8" font-family='"Liberation Serif", serif' font-size="7.4">12</text>
<line x1="398.9" y1="394.5" x2="420.8" y2="394.5" stroke="#d92c29" stroke-width="1.5" stroke-dasharray="5.55 2.4"/>
<circle cx="409.9" cy="394.5" r="3.45" fill="#d92c29"/>
<text x="428.1" y="398.2" font-family='"Liberation Serif", serif' font-style="italic" font-size="10.8">P</text>
<text x="434.7" y="399.8" font-family='"Liberation Serif", serif' font-size="7.4">21</text>
<rect x="361.7" y="509.9" width="106.0" height="57.3" fill="#fff" stroke="#444" stroke-width="0.7"/>
<text x="413.9" y="522.8" font-family='"Liberation Serif", serif' font-size="13.6" text-anchor="middle" fill="#333" textLength="33.3" lengthAdjust="spacingAndGlyphs">10.0%</text>
<g transform="translate(364,524) scale(0.14890)">
<polygon points="28,38 75,30 105,45 140,70 160,32 210,30 222,55 240,68 258,32 300,30 335,50 352,68 378,32 435,30 450,65 478,60 530,100 525,115 548,150 575,190 600,175 650,240 640,250 590,248 545,215 520,225 522,250 470,252 455,225 415,250 378,250 345,220 300,235 295,252 250,252 235,220 195,218 150,180 165,168 135,115 110,95 85,105 40,60" fill="#aaaaaa"/>
<polygon points="188,108 215,97 272,138 264,182 236,168 188,150" fill="#fff"/>
<polygon points="303,112 332,100 352,130 376,172 348,188 330,160 308,135" fill="#fff"/>
<polygon points="413,108 440,96 492,140 486,182 456,170 414,142" fill="#fff"/>
</g>
<rect x="571.8" y="459.4" width="106.0" height="57.0" fill="#fff" stroke="#444" stroke-width="0.7"/>
<text x="623.6" y="472.4" font-family='"Liberation Serif", serif' font-size="13.6" text-anchor="middle" fill="#333" textLength="39.4" lengthAdjust="spacingAndGlyphs">100.0%</text>
<g transform="translate(576,474) scale(0.14890)">
<polygon points="38,48 90,52 130,60 160,75 185,50 235,48 242,75 255,42 320,40 355,55 375,62 400,40 440,38 450,72 475,68 520,90 545,130 550,175 575,172 630,200 640,240 590,235 555,225 530,205 500,235 445,240 430,215 425,245 375,240 340,205 300,215 290,245 240,248 235,210 215,215 165,190 140,150 135,110 105,115 60,90" fill="#aaaaaa"/>
<polygon points="183,136 215,127 265,149 297,158 265,167 235,159" fill="#fff"/>
<polygon points="320,100 340,94 351,140 363,185 348,191 335,150" fill="#fff"/>
<polygon points="394,130 430,117 465,134 502,140 470,161 440,151" fill="#fff"/>
</g>
<text x="454.3" y="329.5" font-family='"Liberation Sans", sans-serif' font-size="11" textLength="22.3" lengthAdjust="spacingAndGlyphs">Final</text>
<text x="481.6" y="329.5" font-family='"Liberation Serif", serif' font-weight="bold" font-size="12.5">F</text>
<line x1="493.5" y1="324.9" x2="501.5" y2="324.9" stroke="#000" stroke-width="0.55"/>
<line x1="493.5" y1="327.3" x2="501.5" y2="327.3" stroke="#000" stroke-width="0.55"/>
<text x="542.4" y="322.3" font-family='"Liberation Serif", serif' font-size="12.27" text-anchor="end" fill="#000" textLength="21.0" lengthAdjust="spacingAndGlyphs">1.05</text>
<text x="595.7" y="322.3" font-family='"Liberation Serif", serif' font-size="12.27" text-anchor="end" fill="#000" textLength="26.9" lengthAdjust="spacingAndGlyphs">0.367</text>
<line x1="560.5" y1="319.4" x2="567.4" y2="319.4" stroke="#000" stroke-width="0.59"/>
<text x="549.6" y="337.2" font-family='"Liberation Serif", serif' font-size="12.27" text-anchor="end" fill="#000" textLength="26.9" lengthAdjust="spacingAndGlyphs">0.367</text>
<line x1="514.3" y1="334.3" x2="521.3" y2="334.3" stroke="#000" stroke-width="0.59"/>
<text x="588.5" y="337.2" font-family='"Liberation Serif", serif' font-size="12.27" text-anchor="end" fill="#000" textLength="21.0" lengthAdjust="spacingAndGlyphs">1.52</text>
<path d="M512.8,311.9 Q504.3,325.9 512.8,339.9" fill="none" stroke="#000" stroke-width="0.7"/>
<path d="M596.7,311.9 Q605.2,325.9 596.7,339.9" fill="none" stroke="#000" stroke-width="0.7"/>
</svg>
</body></html>
